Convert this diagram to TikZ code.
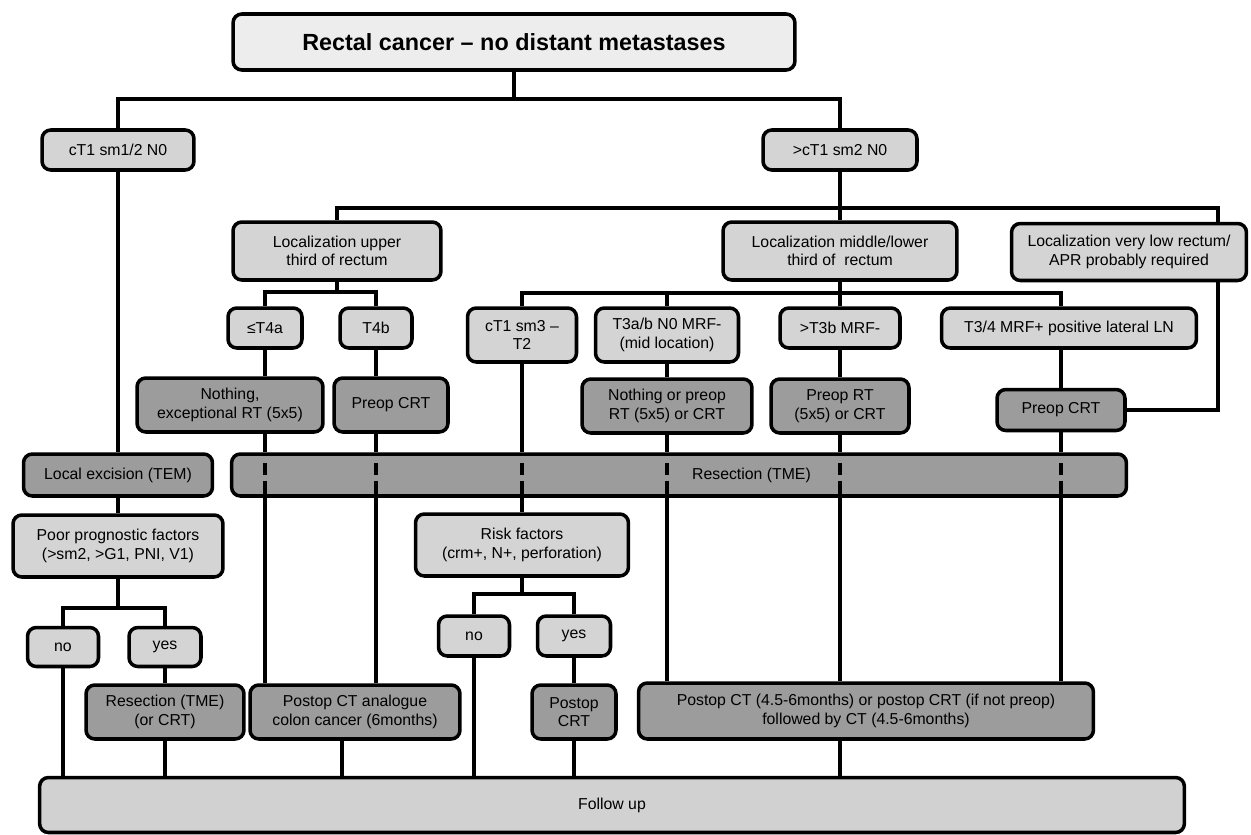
\documentclass[tikz,border=0pt]{standalone}
\usepackage{fontspec}
\setmainfont{Liberation Sans}
\definecolor{boxtitle}{gray}{0.93}
\definecolor{boxlight}{gray}{0.83}
\definecolor{boxdark}{gray}{0.61}
\definecolor{boxfollow}{gray}{0.82}
\tikzset{
  box/.style={draw, line width=2pt, rounded corners=5pt, align=center, inner sep=2pt, font=\fontsize{9}{10.5}\selectfont},
  light/.style={box, fill=boxlight},
  dark/.style={box, fill=boxdark},
  link/.style={line width=2.2pt},
  thru/.style={link, dash pattern=on 0pt off 6.3pt on 6.8pt off 3pt on 20pt},
}
\begin{document}
\begin{tikzpicture}[x=0.02cm, y=-0.02cm]
	\useasboundingbox (0,0) rectangle (1251,835);

	% Title
	\node[box, fill=boxtitle, minimum width=11.24cm, minimum height=1.12cm, font=\fontsize{13.3}{16}\selectfont\bfseries] (title) at (514,42) {Rectal cancer – no distant metastases};

	% First split
	\node[light, minimum width=3.04cm, minimum height=0.8cm] (c1) at (118,150) {cT1 sm1/2 N0};
	\node[light, minimum width=3.08cm, minimum height=0.8cm] (c2) at (840,150) {>cT1 sm2 N0};

	% Localization
	\node[light, minimum width=4.16cm, minimum height=1.16cm] (lup) at (337,251) {Localization upper\\third of rectum};
	\node[light, minimum width=4.68cm, minimum height=1.16cm] (lmid) at (840,251) {Localization middle/lower\\third of\ \ rectum};
	\node[light, minimum width=4.7cm, minimum height=1.14cm] (llow) at (1129,252) {Localization very low rectum/\\APR probably required};

	% Staging
	\node[light, minimum width=1.48cm, minimum height=0.8cm] (t4a) at (265,328) {≤T4a};
	\node[light, minimum width=1.44cm, minimum height=0.8cm] (t4b) at (376,328) {T4b};
	\node[light, minimum width=2.18cm, minimum height=1.08cm] (sm3) at (522,335) {cT1 sm3 –\\T2};
	\node[light, minimum width=2.86cm, minimum height=1.08cm] (t3ab) at (667,335) {T3a/b N0 MRF-\\(mid location)};
	\node[light, minimum width=2.4cm, minimum height=0.8cm] (t3b) at (840,328) {>T3b MRF-};
	\node[light, minimum width=5.1cm, minimum height=0.8cm] (t34) at (1069,328) {T3/4 MRF+ positive lateral LN};

	% Preoperative treatment
	\node[dark, minimum width=3.72cm, minimum height=1.08cm] (nothing1) at (230,405) {Nothing,\\exceptional RT (5x5)};
	\node[dark, minimum width=2.28cm, minimum height=1.08cm] (preop1) at (391,405) {Preop CRT};
	\node[dark, minimum width=3.4cm, minimum height=1.08cm] (nothing2) at (667,406) {Nothing or preop\\RT (5x5) or CRT};
	\node[dark, minimum width=2.76cm, minimum height=1.08cm] (preop2) at (840,406) {Preop RT\\(5x5) or CRT};
	\node[dark, minimum width=2.56cm, minimum height=0.82cm] (preop3) at (1061,410) {Preop CRT};

	% Surgery
	\node[dark, minimum width=3.78cm, minimum height=0.84cm] (tem) at (118,475) {Local excision (TEM)};
	\node[dark, minimum width=17.9cm, minimum height=0.84cm] (tme) at (679,475) {\hspace*{2.9cm}Resection (TME)};

	% Risk assessment
	\node[light, minimum width=4.2cm, minimum height=1.24cm] (poor) at (118,546) {Poor prognostic factors\\(>sm2, >G1, PNI, V1)};
	\node[light, minimum width=1.42cm, minimum height=0.78cm] (no1) at (63,647) {no};
	\node[light, minimum width=1.44cm, minimum height=0.78cm] (yes1) at (165,647) {yes};
	\node[light, minimum width=4.26cm, minimum height=1.24cm] (risk) at (522,545) {Risk factors\\(crm+, N+, perforation)};
	\node[light, minimum width=1.42cm, minimum height=0.8cm] (no2) at (474,636) {no};
	\node[light, minimum width=1.46cm, minimum height=0.8cm] (yes2) at (574,636) {yes};

	% Postoperative treatment
	\node[dark, minimum width=3.16cm, minimum height=1.08cm] (res2) at (165,712) {Resection (TME)\\(or CRT)};
	\node[dark, minimum width=4.2cm, minimum height=1.08cm] (colon) at (355,712) {Postop CT analogue\\colon cancer (6months)};
	\node[dark, minimum width=1.68cm, minimum height=1.08cm] (pcrt) at (574,712) {Postop\\CRT};
	\node[dark, minimum width=9.1cm, minimum height=1.12cm] (pct) at (866,711) {Postop CT (4.5-6months) or postop CRT (if not preop)\\followed by CT (4.5-6months)};

	% Follow up
	\node[box, fill=boxfollow, minimum width=22.9cm, minimum height=1.1cm] (fup) at (612,805) {Follow up};

	% Connectors: top
	\coordinate (j1) at (514,99);
	\draw[link] (title.south) -- (j1);
	\draw[link] (c1.north) |- (j1) -| (c2.north);

	\coordinate (j2) at (840,208);
	\coordinate (xlow) at (1218,0);
	\draw[link] (c2.south) -- (j2);
	\draw[link] (lup.north) |- (j2) -| (xlow |- llow.north);
	\draw[link] (lmid.north) -- (lmid.north |- j2);
	\draw[link] (xlow |- llow.south) |- (preop3.east);

	% Connectors: upper third
	\coordinate (j3) at (337,292);
	\draw[link] (lup.south) -- (j3);
	\draw[link] (t4a.north) |- (j3) -| (t4b.north);
	\draw[link] (t4a.south) -- (t4a.south |- nothing1.north);
	\draw[link] (t4a.south |- nothing1.south) -- (t4a.south |- tme.north);
	\draw[thru] (t4a.south |- tme.north) -- (t4a.south |- tme.south);
	\draw[link] (t4a.south |- tme.south) -- (t4a.south |- colon.north);
	\draw[link] (t4b.south) -- (t4b.south |- preop1.north);
	\draw[link] (t4b.south |- preop1.south) -- (t4b.south |- tme.north);
	\draw[thru] (t4b.south |- tme.north) -- (t4b.south |- tme.south);
	\draw[link] (t4b.south |- tme.south) -- (t4b.south |- colon.north);

	% Connectors: middle/lower third
	\coordinate (j4) at (840,293);
	\draw[link] (lmid.south) -- (j4);
	\draw[link] (sm3.north) |- (j4) -| (t34.north -| preop3.north);
	\draw[link] (t3ab.north) -- (t3ab.north |- j4);
	\draw[link] (t3b.north) -- (j4);

	\draw[link] (sm3.south) -- (sm3.south |- tme.north);
	\draw[thru] (sm3.south |- tme.north) -- (sm3.south |- tme.south);
	\draw[link] (sm3.south |- tme.south) -- (risk.north);

	\draw[link] (t3ab.south) -- (nothing2.north);
	\draw[link] (nothing2.south) -- (nothing2.south |- tme.north);
	\draw[thru] (nothing2.south |- tme.north) -- (nothing2.south |- tme.south);
	\draw[link] (nothing2.south |- tme.south) -- (nothing2.south |- pct.north);

	\draw[link] (t3b.south) -- (preop2.north);
	\draw[link] (preop2.south) -- (preop2.south |- tme.north);
	\draw[thru] (preop2.south |- tme.north) -- (preop2.south |- tme.south);
	\draw[link] (preop2.south |- tme.south) -- (preop2.south |- pct.north);

	\draw[link] (t34.south -| preop3.north) -- (preop3.north);
	\draw[link] (preop3.south) -- (preop3.south |- tme.north);
	\draw[thru] (preop3.south |- tme.north) -- (preop3.south |- tme.south);
	\draw[link] (preop3.south |- tme.south) -- (preop3.south |- pct.north);

	% Connectors: local excision
	\coordinate (j5) at (118,608);
	\draw[link] (c1.south) -- (tem.north);
	\draw[link] (tem.south) -- (poor.north);
	\draw[link] (poor.south) -- (j5);
	\draw[link] (no1.north) |- (j5) -| (yes1.north);
	\draw[link] (yes1.south) -- (res2.north);
	\draw[link] (no1.south) -- (no1.south |- fup.north);
	\draw[link] (res2.south) -- (res2.south |- fup.north);

	% Connectors: risk factors
	\coordinate (j6) at (522,594);
	\draw[link] (risk.south) -- (j6);
	\draw[link] (no2.north) |- (j6) -| (yes2.north);
	\draw[link] (yes2.south) -- (pcrt.north);
	\draw[link] (no2.south) -- (no2.south |- fup.north);
	\draw[link] (pcrt.south) -- (pcrt.south |- fup.north);

	% Connectors: to follow up
	\coordinate (xc) at (342,0);
	\draw[link] (colon.south -| xc) -- (xc |- fup.north);
	\draw[link] (pct.south -| preop2.south) -- (preop2.south |- fup.north);
\end{tikzpicture}
\end{document}
